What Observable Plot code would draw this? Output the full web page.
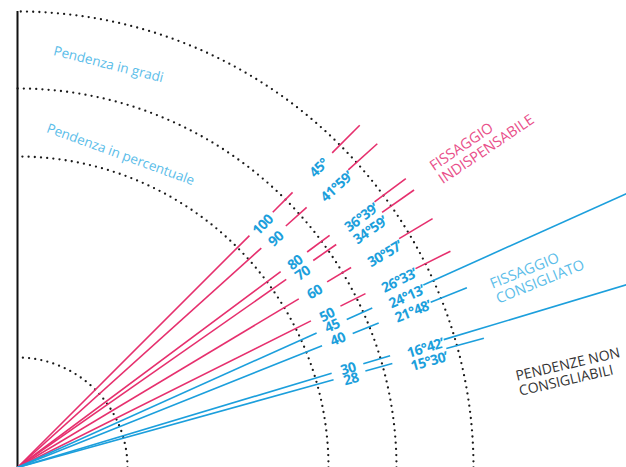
<!DOCTYPE html>
<html>
<head>
<meta charset="utf-8">
<script src="https://cdn.jsdelivr.net/npm/d3@7"></script>
<script src="https://cdn.jsdelivr.net/npm/@observablehq/plot@0.6"></script>
<style>
  html, body { margin: 0; padding: 0; background: #fff; overflow: hidden; }
</style>
</head>
<body>
<div id="chart"></div>
<script>
// ---- Data ----
const percentLabels = ["100", "90", "80", "70", "60", "50", "45", "40", "30", "28"];
const degreeLabels  = ["45°", "41°59’", "36°39’", "34°59’", "30°57’", "26°33’", "24°13’", "21°48’", "16°42’", "15°30’"];
const zones = ["indispensabile", "indispensabile", "indispensabile", "indispensabile", "indispensabile", "indispensabile",
               "consigliato", "consigliato", "non consigliabile", "non consigliabile"];
const zoneTitles = ["FISSAGGIO\nINDISPENSABILE", "FISSAGGIO\nCONSIGLIATO", "PENDENZE NON\nCONSIGLIABILI"];
const ringTitles = ["Pendenza in gradi", "Pendenza in percentuale"];

// ---- Layout (pixel-like units, origin at the foot of the axis) ----
const W = 626, H = 467, ML = 17;
const XMAX = W - ML, YMAX = H;
const ARC_R = [110, 311, 379, 456];
const SEGS = [[0, 328], [361, 389], [445, 484]];
const R_PCT = 345, R_DEG = 425;
// small sideways nudges of the labels off their ray (px, positive = below the ray)
const NUDGE_PCT = [2, 3, 1.5, 4.5, 2.5, 2, 0, 0, 0.5, 4];
const NUDGE_DEG = [1.5, 5, 5, 8, 6, 3.5, 4, 2, 3, 8];

const PINK = "#e6306e", BLUE = "#1c9fdc", LIGHTBLUE = "#5bbde9", LIGHTPINK = "#e9508a";

const toDeg = s => { const m = s.match(/(\d+)°(?:(\d+)’)?/); return +m[1] + (m[2] ? +m[2] / 60 : 0); };
const rad = d => d * Math.PI / 180;

const rays = percentLabels.map((p, i) => ({
  i,
  pct: p,
  deg: degreeLabels[i],
  theta: toDeg(degreeLabels[i]),
  zone: zones[i],
  boundary: i > 0 && zones[i] !== zones[i - 1]
}));
const color = z => z === "indispensabile" ? PINK : BLUE;

const segments = rays.flatMap(r => SEGS.map(([a, b], k) => {
  const t = rad(r.theta);
  const end = (k === SEGS.length - 1 && r.boundary) ? XMAX / Math.cos(t) : b;
  return {x1: a * Math.cos(t), y1: a * Math.sin(t), x2: end * Math.cos(t), y2: end * Math.sin(t), zone: r.zone};
}));

const arcs = ARC_R.flatMap(R => d3.range(0, 90.001, 0.25).map(a => ({R, x: R * Math.cos(rad(a)), y: R * Math.sin(rad(a))})));

// point at radius r along angle t, pushed sideways by off (below the ray)
const place = (r, t, off) => {
  const a = rad(t);
  return {x: r * Math.cos(a) + off * Math.sin(a), y: r * Math.sin(a) - off * Math.cos(a)};
};

const chart = Plot.plot({
  width: W, height: H,
  marginLeft: ML, marginRight: 0, marginTop: 0, marginBottom: 0,
  x: {domain: [0, XMAX], axis: null},
  y: {domain: [0, YMAX], axis: null},
  style: {fontFamily: "'Open Sans', 'Noto Sans', sans-serif", background: "#fff"},
  marks: [
    Plot.line(arcs, {x: "x", y: "y", z: "R", stroke: "#1a1a1a", strokeWidth: 2.3,
      strokeDasharray: "0,6.2", strokeLinecap: "round"}),
    Plot.ruleX([0], {y1: 0, y2: d3.max(ARC_R), stroke: "#111", strokeWidth: 2}),
    Plot.link(segments, {x1: "x1", y1: "y1", x2: "x2", y2: "y2",
      stroke: d => color(d.zone), strokeWidth: 1.6}),
    Plot.text(rays, {
      x: d => place(R_PCT, d.theta, NUDGE_PCT[d.i]).x, y: d => place(R_PCT, d.theta, NUDGE_PCT[d.i]).y,
      text: "pct", rotate: d => -d.theta, fill: BLUE, fontSize: 14, fontWeight: "bold"
    }),
    Plot.text(rays, {
      x: d => place(R_DEG, d.theta, NUDGE_DEG[d.i]).x, y: d => place(R_DEG, d.theta, NUDGE_DEG[d.i]).y,
      text: "deg", rotate: d => -d.theta, fill: BLUE, fontSize: 14, fontWeight: "bold"
    }),
    Plot.text([ringTitles[0]], {x: 91, y: 403, text: d => d, rotate: 14, fill: LIGHTBLUE, fontSize: 13.5}),
    Plot.text([ringTitles[1]], {x: 103, y: 313, text: d => d, rotate: 20, fill: LIGHTBLUE, fontSize: 13.5}),
    Plot.text([zoneTitles[0]], {x: 418, y: 294, text: d => d, rotate: -34, textAnchor: "start",
      fill: LIGHTPINK, fontSize: 14.5, lineHeight: 1.1}),
    Plot.text([zoneTitles[1]], {x: 476, y: 176, text: d => d, rotate: -22, textAnchor: "start",
      fill: LIGHTBLUE, fontSize: 14.5, lineHeight: 1.1}),
    Plot.text([zoneTitles[2]], {x: 500, y: 84, text: d => d, rotate: -13, textAnchor: "start",
      fill: "#333", fontSize: 14, lineHeight: 1.1})
  ]
});
// slightly tighter numerals, as in the original
d3.select(chart).selectAll("text").filter(function () {
  const fw = this.getAttribute("font-weight") || (this.parentNode && this.parentNode.getAttribute("font-weight"));
  return fw === "bold";
}).style("letter-spacing", "-0.6px");
document.getElementById("chart").appendChild(chart);
</script>
</body>
</html>
